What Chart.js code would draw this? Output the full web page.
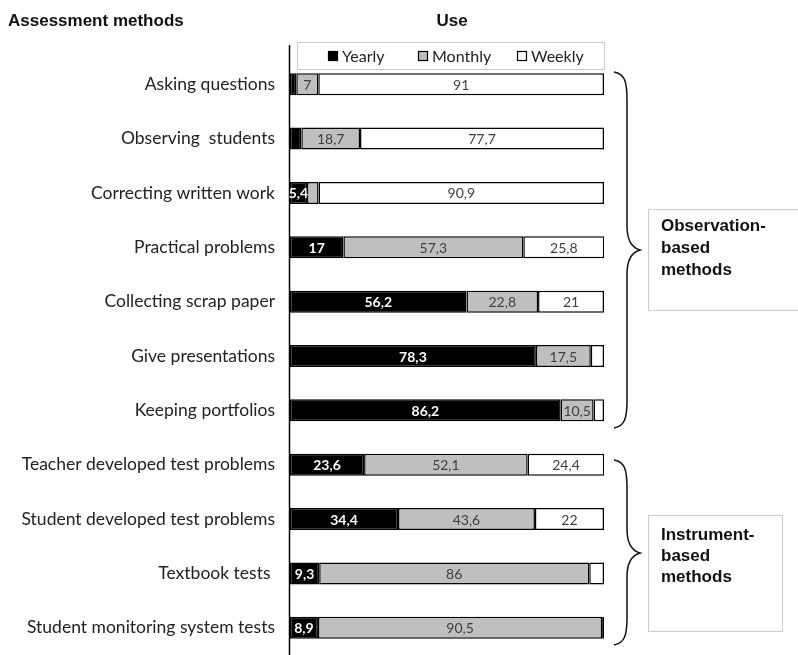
<!DOCTYPE html>
<html>
<head>
<meta charset="utf-8">
<script src="https://cdn.jsdelivr.net/npm/chart.js@4"></script>
<style>
html,body{margin:0;padding:0;background:#fff;}
#wrap{width:798px;height:655px;position:relative;}
</style>
</head>
<body>
<div id="wrap"><canvas id="c" width="798" height="655"></canvas></div>
<script>
const categories = [
  "Asking questions",
  "Observing  students",
  "Correcting written work",
  "Practical problems",
  "Collecting scrap paper",
  "Give presentations",
  "Keeping portfolios",
  "Teacher developed test problems",
  "Student developed test problems",
  "Textbook tests ",
  "Student monitoring system tests"
];
const yearly  = [2.0, 3.6, 5.4, 17, 56.2, 78.3, 86.2, 23.6, 34.4, 9.3, 8.9];
const monthly = [7, 18.7, 3.7, 57.3, 22.8, 17.5, 10.5, 52.1, 43.6, 86, 90.5];
const weekly  = [91, 77.7, 90.9, 25.8, 21, 4.2, 3.3, 24.4, 22, 4.7, 0.6];
const seriesNames = ["Yearly", "Monthly", "Weekly"];
const groupNames = [["Observation-", "based", "methods"], ["Instrument-", "based", "methods"]];
const labelMin = 5;

const BODY_FONT = "Lato, 'Open Sans', sans-serif";
const HEAD_FONT = "'Liberation Sans', Arial, sans-serif";
const fills = ["#000000", "#bfbfbf", "#ffffff"];

const fmt = v => String(v).replace('.', ',');

const decorPlugin = {
  id: 'decor',
  afterDraw(chart) {
    const ctx = chart.ctx;
    const xs = chart.scales.x;
    ctx.save();
    // Headers
    ctx.fillStyle = '#111';
    ctx.font = "bold 17px " + HEAD_FONT;
    ctx.textBaseline = 'middle';
    ctx.textAlign = 'left';
    ctx.fillText("Assessment methods", 8, 21);
    ctx.textAlign = 'center';
    ctx.fillText("Use", 452, 21);

    // Axis line
    ctx.strokeStyle = '#000';
    ctx.lineWidth = 1.5;
    ctx.beginPath();
    ctx.moveTo(xs.left - 0.5, 45);
    ctx.lineTo(xs.left - 0.5, 655);
    ctx.stroke();

    // Legend
    ctx.strokeStyle = '#cccccc';
    ctx.lineWidth = 1;
    ctx.strokeRect(297.5, 42.5, 307, 27);
    const lx = [328, 418, 517];
    ctx.font = "16px " + BODY_FONT;
    ctx.textAlign = 'left';
    for (let i = 0; i < 3; i++) {
      ctx.fillStyle = fills[i];
      ctx.fillRect(lx[i], 51, 10, 10);
      ctx.strokeStyle = '#000';
      ctx.lineWidth = 1.2;
      ctx.strokeRect(lx[i] + 0.5, 51.5, 9, 9);
      ctx.fillStyle = '#222';
      ctx.fillText(seriesNames[i], lx[i] + 14, 57);
    }

    // Value labels
    chart.data.datasets.forEach((ds, di) => {
      const meta = chart.getDatasetMeta(di);
      meta.data.forEach((el, j) => {
        const v = ds.data[j];
        if (v < labelMin) return;
        const cx = (el.x + el.base) / 2;
        if (di === 0) {
          ctx.fillStyle = '#fff';
          ctx.font = "bold 14px " + BODY_FONT;
        } else {
          ctx.fillStyle = '#404040';
          ctx.font = "14px " + BODY_FONT;
        }
        ctx.textAlign = 'center';
        ctx.textBaseline = 'middle';
        ctx.fillText(fmt(v), cx, el.y + 1);
      });
    });

    // Braces
    function brace(top, bottom, tip) {
      const x0 = 614, x1 = 627, xt = 640;
      ctx.beginPath();
      ctx.moveTo(x0, top);
      ctx.bezierCurveTo(x1 - 2, top + 2, x1, top + 10, x1, top + 28);
      ctx.lineTo(x1, tip - 24);
      ctx.bezierCurveTo(x1, tip - 8, x1 + 6, tip - 2, xt, tip);
      ctx.bezierCurveTo(x1 + 6, tip + 2, x1, tip + 8, x1, tip + 24);
      ctx.lineTo(x1, bottom - 28);
      ctx.bezierCurveTo(x1, bottom - 10, x1 - 2, bottom - 2, x0, bottom);
      ctx.strokeStyle = '#111';
      ctx.lineWidth = 1.5;
      ctx.stroke();
    }
    brace(72, 428, 250);
    brace(460, 645, 553);

    // Group boxes
    ctx.strokeStyle = '#cccccc';
    ctx.lineWidth = 1;
    ctx.strokeRect(648.5, 209.5, 160, 101);
    ctx.strokeRect(648.5, 515.5, 134, 116);
    ctx.fillStyle = '#111';
    ctx.font = "bold 17px " + HEAD_FONT;
    ctx.textAlign = 'left';
    ctx.textBaseline = 'middle';
    groupNames[0].forEach((t, i) => ctx.fillText(t, 661, 226 + i * 22));
    groupNames[1].forEach((t, i) => ctx.fillText(t, 661, 535 + i * 21));
    ctx.restore();
  }
};

const mk = (label, data, i) => ({
  label, data,
  backgroundColor: fills[i],
  borderColor: '#000',
  borderWidth: 1.5,
  borderSkipped: false,
  barPercentage: 0.405,
  categoryPercentage: 1.0
});

new Chart(document.getElementById('c'), {
  type: 'bar',
  data: {
    labels: categories,
    datasets: [mk(seriesNames[0], yearly, 0), mk(seriesNames[1], monthly, 1), mk(seriesNames[2], weekly, 2)]
  },
  options: {
    indexAxis: 'y',
    responsive: false,
    animation: false,
    layout: { padding: { top: 57, right: 194, bottom: 0, left: 0 } },
    plugins: { legend: { display: false }, tooltip: { enabled: false } },
    scales: {
      x: { stacked: true, min: 0, max: 100, display: false },
      y: {
        stacked: true,
        grid: { display: false, drawTicks: false },
        border: { display: false },
        ticks: { color: '#222', font: { family: BODY_FONT, size: 17.5 }, padding: 15 },
        afterFit(scale) { scale.width = 290; scale.paddingTop = 0; scale.paddingBottom = 0; }
      }
    }
  },
  plugins: [decorPlugin]
});
</script>
</body>
</html>
